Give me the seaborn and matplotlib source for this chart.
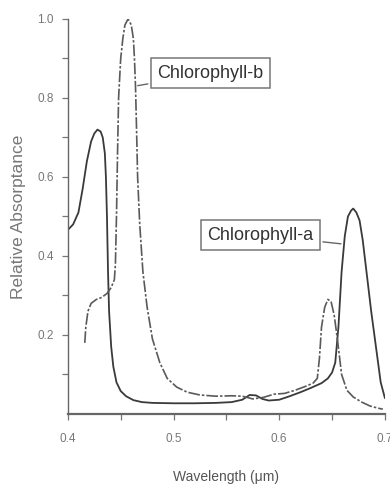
import matplotlib
matplotlib.use("Agg")
import matplotlib.pyplot as plt
import seaborn as sns
import pandas as pd

# Chlorophyll-a (solid)
wl_a = [0.400, 0.405, 0.410, 0.414, 0.418, 0.422, 0.425, 0.428, 0.431, 0.433,
        0.435, 0.436, 0.437, 0.438, 0.439, 0.441, 0.443, 0.446, 0.450, 0.455,
        0.462, 0.470, 0.480, 0.500, 0.520, 0.540, 0.555, 0.565, 0.572, 0.578,
        0.584, 0.590, 0.600, 0.610, 0.620, 0.630, 0.640, 0.646, 0.650, 0.653,
        0.656, 0.659, 0.662, 0.665, 0.668, 0.670, 0.673, 0.676, 0.679, 0.683,
        0.687, 0.692, 0.696, 0.700]
abs_a = [0.466, 0.48, 0.51, 0.57, 0.64, 0.69, 0.71, 0.72, 0.715, 0.70,
         0.66, 0.60, 0.50, 0.36, 0.26, 0.17, 0.12, 0.08, 0.058, 0.045,
         0.035, 0.030, 0.028, 0.027, 0.027, 0.028, 0.030, 0.036, 0.048, 0.047,
         0.038, 0.034, 0.036, 0.045, 0.055, 0.066, 0.078, 0.090, 0.105, 0.13,
         0.22, 0.36, 0.45, 0.50, 0.515, 0.52, 0.51, 0.49, 0.44, 0.35,
         0.26, 0.16, 0.08, 0.04]

# Chlorophyll-b (dash-dot)
wl_b = [0.416, 0.417, 0.419, 0.422, 0.427, 0.432, 0.437, 0.441, 0.444, 0.445,
        0.446, 0.447, 0.448, 0.450, 0.452, 0.454, 0.457, 0.460, 0.462, 0.463,
        0.464, 0.465, 0.466, 0.468, 0.471, 0.475, 0.480, 0.487, 0.494, 0.503,
        0.513, 0.525, 0.540, 0.555, 0.565, 0.575, 0.585, 0.595, 0.605, 0.615,
        0.625, 0.632, 0.636, 0.638, 0.640, 0.643, 0.646, 0.649, 0.652, 0.655,
        0.659, 0.664, 0.670, 0.678, 0.686, 0.693, 0.698]
abs_b = [0.18, 0.22, 0.26, 0.28, 0.29, 0.295, 0.305, 0.32, 0.34, 0.38,
         0.50, 0.66, 0.80, 0.90, 0.95, 0.985, 1.0, 0.985, 0.95, 0.90,
         0.83, 0.72, 0.60, 0.48, 0.36, 0.27, 0.19, 0.13, 0.09, 0.068,
         0.055, 0.048, 0.045, 0.046, 0.045, 0.038, 0.042, 0.050, 0.052, 0.060,
         0.070, 0.078, 0.09, 0.14, 0.22, 0.27, 0.29, 0.285, 0.25, 0.19,
         0.10, 0.06, 0.043, 0.03, 0.02, 0.015, 0.012]

x_ticks = [0.4, 0.5, 0.6, 0.7]
x_tick_labels = ["0.4", "0.5", "0.6", "0.7"]
y_ticks = [0.2, 0.4, 0.6, 0.8, 1.0]
y_tick_labels = ["0.2", "0.4", "0.6", "0.8", "1.0"]

sns.set_style("ticks")
plt.rcParams['font.family'] = ['Liberation Sans', 'DejaVu Sans']

fig = plt.figure(figsize=(3.9, 4.87), dpi=100)
ax = fig.add_axes([0.174, 0.150, 0.813, 0.811])

df_a = pd.DataFrame({"wl": wl_a, "abs": abs_a})
df_b = pd.DataFrame({"wl": wl_b, "abs": abs_b})
sns.lineplot(data=df_a, x="wl", y="abs", ax=ax, color="#3a3a3a", lw=1.3, sort=False)
sns.lineplot(data=df_b, x="wl", y="abs", ax=ax, color="#5a5a5a", lw=1.2, sort=False,
             linestyle=(0, (7, 1.2, 1.5, 1.2)))

ax.set_xlim(0.4, 0.7)
ax.set_ylim(0, 1.0)
ax.set_xticks(x_ticks)
ax.set_xticklabels(x_tick_labels)
ax.set_yticks(y_ticks)
ax.set_yticklabels(y_tick_labels)
ax.set_xticks([0.45, 0.55, 0.65], minor=True)
ax.set_yticks([0.1, 0.3, 0.5, 0.7, 0.9], minor=True)
ax.tick_params(axis="both", which="both", direction="out", colors="#777777",
               labelsize=8.5, length=4, width=0.9)
ax.tick_params(axis="y", pad=6)
ax.tick_params(axis="x", pad=10)
for s in ["top", "right"]:
    ax.spines[s].set_visible(False)
for s in ["left", "bottom"]:
    ax.spines[s].set_color("#666666")
    ax.spines[s].set_linewidth(1.0)
ax.spines["bottom"].set_linewidth(1.6)

ax.set_xlabel("Wavelength (μm)", fontsize=10, color="#555555", labelpad=18)
ax.set_ylabel("Relative Absorptance", fontsize=12.5, color="#777777", labelpad=8)

bbox = dict(boxstyle="square,pad=0.35", fc="white", ec="#777777", lw=1.1)
ax.annotate("Chlorophyll-b", xy=(0.4635, 0.83), xytext=(0.535, 0.863),
            ha="center", va="center", fontsize=13, color="#333333", bbox=bbox,
            arrowprops=dict(arrowstyle="-", color="#666666", lw=1.0))
ax.annotate("Chlorophyll-a", xy=(0.661, 0.43), xytext=(0.582, 0.453),
            ha="center", va="center", fontsize=13, color="#333333", bbox=bbox,
            arrowprops=dict(arrowstyle="-", color="#666666", lw=1.0))

fig.savefig("out.png", dpi=100, facecolor="white")
